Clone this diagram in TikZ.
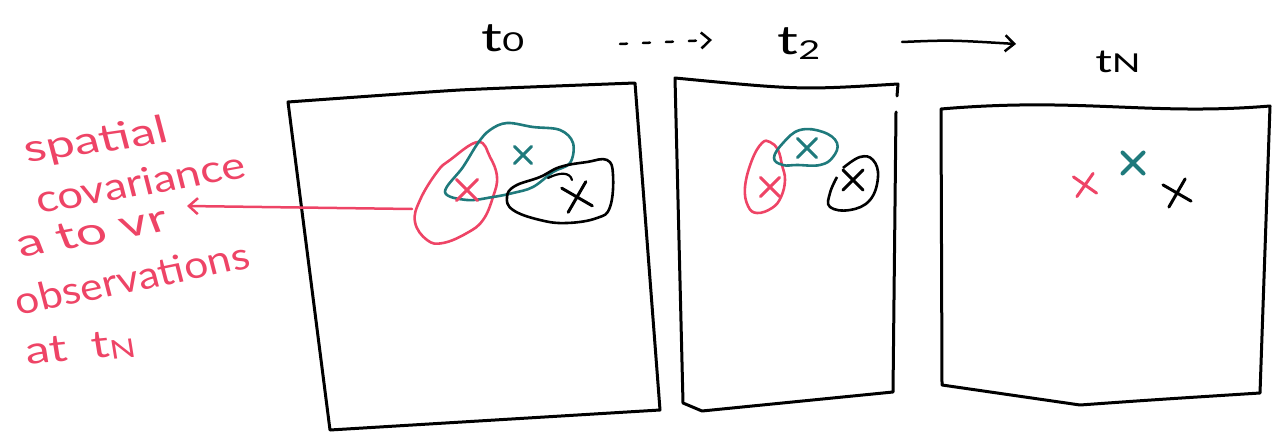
\documentclass[tikz,border=0pt]{standalone}
\usepackage{fontspec}
\setmainfont{Lato}
\usetikzlibrary{arrows.meta,shapes.misc}
\definecolor{pen}{HTML}{EE4466}
\definecolor{tealpen}{HTML}{1F7A7C}
\newcommand{\smallfig}[2][0pt]{\raisebox{#1}{\fontsize{26}{28}\selectfont #2}}
\begin{document}
\begin{tikzpicture}[x=1pt,y=-1pt,
  box/.style={line width=3pt, line join=round, line cap=round},
  blob/.style={line width=2.6pt, line join=round},
  xmk/.style={cross out, draw, line width=3pt, line cap=round, inner sep=0pt, minimum size=#1},
  hand/.style={text=pen, font=\fontsize{38}{42}\selectfont, inner sep=0pt},
  lab/.style={font=\fontsize{40}{44}\selectfont, inner sep=0pt, xscale=1.45},
  barb/.style={-{Straight Barb[length=9pt,width=16pt,line width=2.5pt]}}]
\useasboundingbox (0,0) rectangle (1282,433);

% time labels
\node[lab] (t0) at (503,38) {t\smallfig{0}};
\node[lab] (t2) at (799,44) {t\smallfig[-5pt]{2}};
\node[lab] (tN) at (1118,62) {{\fontsize{32}{34}\selectfont t}\smallfig{N}};
\coordinate (d1) at (620,44);
\coordinate (d2) at (712,40);
\coordinate (s1) at (902,42);
\coordinate (s2) at (1016,44);
\draw[line width=2.5pt, line cap=round, dash pattern=on 7pt off 16pt, barb] (d1) -- (d2);
\draw[line width=2.5pt, line cap=round, barb] (s1) .. controls (950,40) .. (s2);

% panels
\draw[box] plot[smooth, tension=0.3] coordinates {(288,102) (460,90) (635,83)} -- (660,410) -- (330,430) -- cycle;
\draw[box] (897,96) -- (898,84) .. controls (800,90) .. (675,78) -- (683,403) -- (702,411) -- (893,392) -- (896,112);
\draw[box] (941,109) .. controls (1080,97) and (1150,116) .. (1270,106) -- (1260,393) .. controls (1150,400) .. (1080,405) -- (942,385) -- cycle;

% panel 1 blobs
\draw[pen, blob] plot[smooth cycle, tension=0.7] coordinates {(478,142) (450,160) (437,172) (420,200) (415,222) (427,240) (443,243) (467,233) (483,220) (493,197) (497,177) (490,157)};
\draw[tealpen, blob] plot[smooth cycle, tension=0.6] coordinates {(478,143) (490,130) (507,123) (533,127) (560,130) (573,143) (570,163) (553,172) (533,187) (513,193) (493,197) (467,200) (445,192) (463,167)};
\draw[black, blob] plot[smooth cycle, tension=0.7] coordinates {(507,197) (515,186) (540,177) (560,167) (587,162) (607,160) (613,175) (610,207) (597,218) (567,223) (540,220) (513,210)};
\draw[black, line width=2.2pt, line cap=round] (548,178) .. controls (560,172) and (570,172) .. (572,180);
\node[xmk=18pt, pen] (r1) at (467,190) {};
\node[xmk=14pt, tealpen] (g1) at (523,155) {};
\node[xmk=22pt, black, rotate=15] (b1) at (577,197) {};

% panel 2 blobs
\draw[pen, blob] plot[smooth cycle, tension=0.7] coordinates {(770,142) (778,150) (782,165) (785,180) (781,197) (772,208) (757,213) (748,206) (745,187) (752,160) (762,143)};
\draw[tealpen, blob] plot[smooth cycle, tension=0.7] coordinates {(774,158) (783,143) (800,130) (823,132) (837,143) (833,157) (820,165) (797,165) (783,165)};
\draw[black, blob] plot[smooth, tension=0.7] coordinates {(843,168) (860,157) (873,160) (878,177) (870,200) (850,210) (830,207) (830,193) (837,177)};
\node[xmk=16pt, pen] (r2) at (770,187) {};
\node[xmk=16pt, tealpen] (g2) at (807,148) {};
\node[xmk=17pt, black] (b2) at (853,180) {};

% panel 3 marks
\node[xmk=17pt, pen, rotate=10] (r3) at (1085,185) {};
\node[xmk=17pt, tealpen, line width=4pt] (g3) at (1133,163) {};
\node[xmk=20pt, black, rotate=15] (b3) at (1177,193) {};

% annotation
\node[hand, xscale=1.35, rotate=11] (l1) at (96,142) {spatial};
\node[hand, xscale=1.2, rotate=12] (l2) at (140,182) {covariance};
\node[hand, xscale=1.45, rotate=15] (l3) at (92,232) {a to vr};
\node[hand, xscale=1.12, rotate=13] (l4) at (132,278) {observations};
\node[hand, xscale=1.3, rotate=7] (l5) at (80,348) {at\enspace t\raisebox{-3pt}{\fontsize{26}{28}\selectfont N}};
\coordinate (a1) at (412,209);
\coordinate (a2) at (187,206);
\draw[pen, line width=2.5pt, line cap=round, barb] (a1) -- (a2);
\end{tikzpicture}
\end{document}
